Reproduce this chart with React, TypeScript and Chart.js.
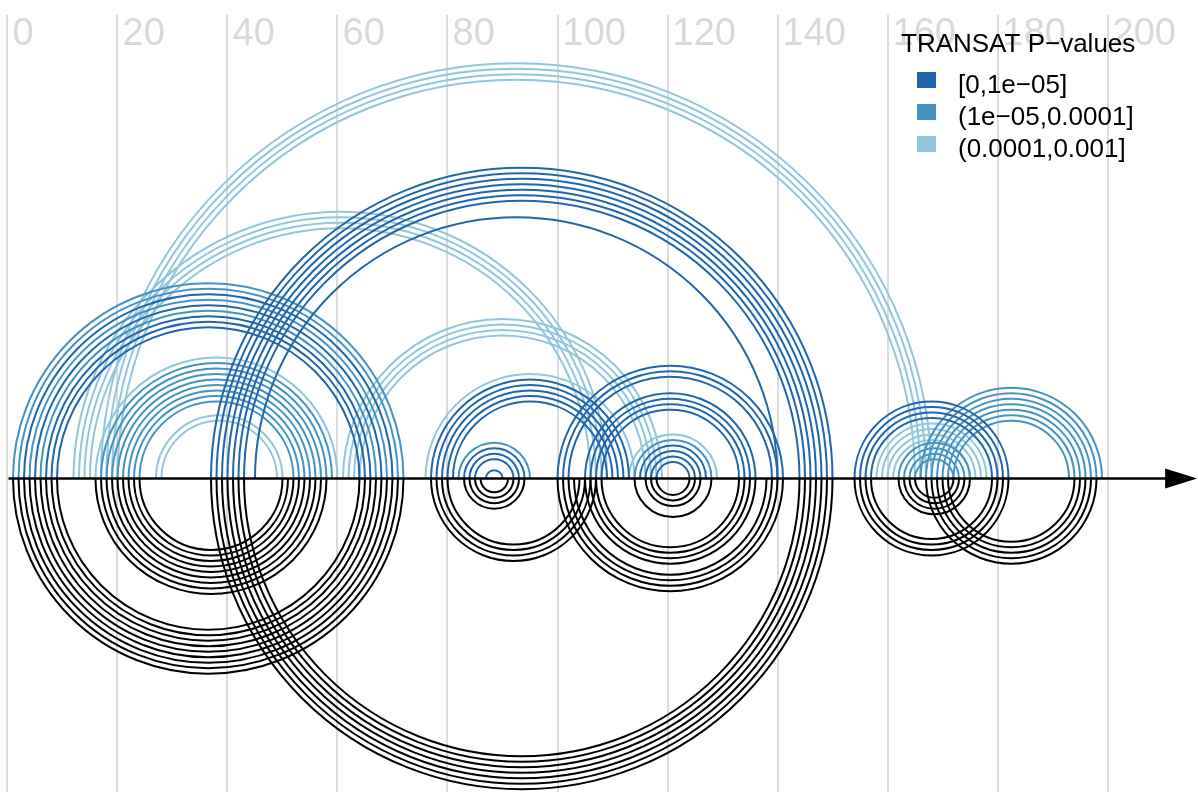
import React, { useEffect, useRef } from "react";
import { Chart, registerables } from "chart.js";

Chart.register(...registerables);

// ---------- data ----------
const tickValues = [0, 20, 40, 60, 80, 100, 120, 140, 160, 180, 200];

const legendTitle = "TRANSAT P\u2212values";
const legendLabels = ["[0,1e\u221205]", "(1e\u221205,0.0001]", "(0.0001,0.001]"];
const pColors = ["#2166ac", "#4393c3", "#92c5de"];

// predicted helices (top): first base, last base, number of base pairs, p-value class
const upperStart = [1, 3, 4, 5, 6, 7, 16, 17, 27, 37, 45, 12, 17, 61, 76, 77, 82, 83, 87, 100, 105, 113, 114, 115, 154, 158, 162, 166];
const upperEnd = [72, 70, 69, 68, 67, 66, 60, 59, 50, 150, 140, 109, 168, 119, 114, 113, 95, 94, 90, 141, 136, 129, 128, 127, 182, 178, 175, 199];
const upperLength = [2, 1, 1, 1, 1, 3, 1, 8, 2, 7, 1, 4, 4, 4, 1, 5, 1, 3, 1, 3, 4, 1, 1, 4, 4, 4, 4, 7];
const upperPclass = [1, 0, 1, 0, 1, 0, 2, 1, 2, 0, 0, 2, 2, 2, 2, 0, 1, 0, 0, 0, 0, 2, 1, 0, 0, 2, 1, 1];

// known helices (bottom)
const lowerStart = [1, 16, 37, 77, 83, 100, 105, 114, 116, 154, 162, 167];
const lowerEnd = [72, 58, 150, 107, 94, 141, 136, 128, 126, 182, 175, 198];
const lowerLength = [9, 9, 7, 4, 4, 4, 4, 1, 3, 4, 4, 5];

// ---------- layout ----------
const W = 1198;
const H = 792;
const X_MIN = -1.3636;
const X_MAX = 216.4545;
const Y_MAX = 87;
const Y_MIN = -57;
const GRID_TOP = 84.3;
const AXIS_END = 216.3;
const FONT = "'Liberation Sans', Arial, Helvetica, sans-serif";

const arcPlugin = {
  id: "doubleHelixArcs",
  beforeDatasetsDraw(chart: any) {
    const { ctx } = chart;
    const x = chart.scales.x;
    const y = chart.scales.y;
    ctx.save();
    // grid lines
    ctx.strokeStyle = "#dcdcdc";
    ctx.lineWidth = 2;
    const gTop = y.getPixelForValue(GRID_TOP);
    const gBot = y.getPixelForValue(Y_MIN);
    tickValues.forEach((v) => {
      const px = Math.round(x.getPixelForValue(v));
      ctx.beginPath();
      ctx.moveTo(px, gTop);
      ctx.lineTo(px, gBot);
      ctx.stroke();
    });
    // tick labels
    ctx.fillStyle = "#d9d9d9";
    ctx.font = `38px ${FONT}`;
    ctx.textAlign = "left";
    ctx.textBaseline = "alphabetic";
    tickValues.forEach((v) => {
      const px = x.getPixelForValue(v);
      ctx.fillText(String(v), px + 5, 45);
    });
    ctx.restore();
  },
  afterDatasetsDraw(chart: any) {
    const { ctx } = chart;
    const x = chart.scales.x;
    const y = chart.scales.y;
    const cy = y.getPixelForValue(0);
    ctx.save();
    ctx.lineWidth = 2;
    ctx.lineCap = "butt";

    // upper arcs: light first, dark last
    const order = upperStart.map((_, i) => i).sort((a, b) => upperPclass[b] - upperPclass[a]);
    order.forEach((h) => {
      ctx.strokeStyle = pColors[upperPclass[h]];
      for (let k = 0; k < upperLength[h]; k++) {
        const i = upperStart[h] + k;
        const j = upperEnd[h] - k;
        const cx = x.getPixelForValue((i + j) / 2);
        const r = x.getPixelForValue(j) - cx;
        ctx.beginPath();
        ctx.arc(cx, cy, r, Math.PI, 2 * Math.PI, false);
        ctx.stroke();
      }
    });

    // lower arcs
    ctx.strokeStyle = "#000000";
    lowerStart.forEach((s, h) => {
      for (let k = 0; k < lowerLength[h]; k++) {
        const i = s + k;
        const j = lowerEnd[h] - k;
        const cx = x.getPixelForValue((i + j) / 2);
        const r = x.getPixelForValue(j) - cx;
        ctx.beginPath();
        ctx.arc(cx, cy, r, 0, Math.PI, false);
        ctx.stroke();
      }
    });

    // sequence axis with arrow
    const x0 = x.getPixelForValue(0) + 1;
    const tip = x.getPixelForValue(AXIS_END);
    const headLen = 32;
    ctx.strokeStyle = "#000";
    ctx.lineWidth = 2.4;
    ctx.beginPath();
    ctx.moveTo(x0, cy);
    ctx.lineTo(tip - headLen + 2, cy);
    ctx.stroke();
    ctx.fillStyle = "#000";
    ctx.beginPath();
    ctx.moveTo(tip, cy);
    ctx.lineTo(tip - headLen, cy - 10);
    ctx.lineTo(tip - headLen, cy + 10);
    ctx.closePath();
    ctx.fill();

    // legend
    ctx.fillStyle = "#000";
    ctx.font = `26px ${FONT}`;
    ctx.textAlign = "left";
    ctx.textBaseline = "alphabetic";
    ctx.fillText(legendTitle, 901, 52);
    legendLabels.forEach((lab, i) => {
      const top = 72 + i * 32;
      ctx.fillStyle = pColors[i];
      ctx.fillRect(917, top, 19, 16);
      ctx.fillStyle = "#000";
      ctx.fillText(lab, 958, top + 21);
    });
    ctx.restore();
  },
};

export default function App() {
  const canvasRef = useRef<HTMLCanvasElement | null>(null);

  useEffect(() => {
    if (!canvasRef.current) return;
    const chart = new Chart(canvasRef.current, {
      type: "scatter",
      data: { datasets: [] },
      options: {
        responsive: false,
        maintainAspectRatio: false,
        animation: false,
        devicePixelRatio: 1,
        layout: { padding: 0 },
        plugins: {
          legend: { display: false },
          tooltip: { enabled: false },
          title: { display: false },
        },
        scales: {
          x: { type: "linear", min: X_MIN, max: X_MAX, display: false },
          y: { type: "linear", min: Y_MIN, max: Y_MAX, display: false },
        },
      },
      plugins: [arcPlugin],
    });
    return () => chart.destroy();
  }, []);

  return (
    <div style={{ position: "absolute", left: 0, top: 0, width: W, height: H, background: "#fff" }}>
      <canvas ref={canvasRef} width={W} height={H} style={{ display: "block" }} />
    </div>
  );
}
